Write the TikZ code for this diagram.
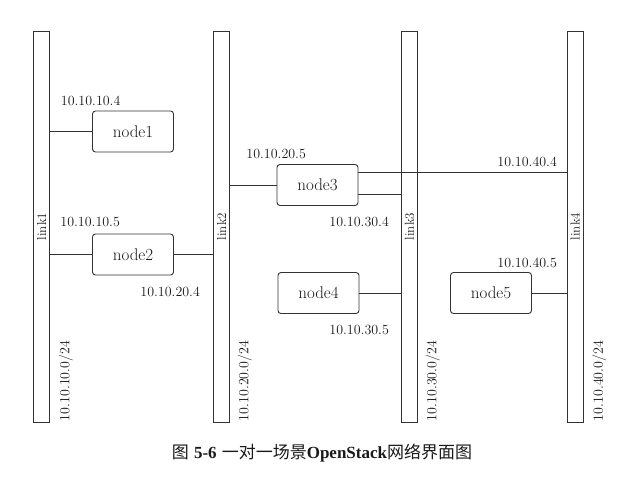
\documentclass[tikz,border=0pt]{standalone}
\usepackage{fontspec}
\newfontfamily\cjk{Noto Sans CJK SC}
\newfontfamily\capserif{Liberation Serif}
\usepackage{tikz}
\usetikzlibrary{positioning}

\begin{document}
\begin{tikzpicture}[x=1pt,y=-1pt,line width=0.9pt,draw=black!80,text=black!90,
    link/.style={draw,minimum width=16pt,minimum height=391pt,inner sep=0pt},
    host/.style={draw,rounded corners=3pt,minimum width=81pt,minimum height=41pt,font=\fontsize{17}{17}\selectfont},
    ip/.style={anchor=base west,inner sep=0pt,font=\fontsize{14}{14}\selectfont},
    tag/.style={rotate=90,inner sep=0pt,font=\fontsize{13}{13}\selectfont},
    net/.style={rotate=90,anchor=west,inner sep=0pt,font=\fontsize{14}{14}\selectfont}]
  \useasboundingbox (0,0) rectangle (642,478);
  % the four links
  \node[link] (link1) at (41.5,226.5) {};
  \node[link] (link2) at (221.5,226.5) {};
  \node[link] (link3) at (409.5,226.5) {};
  \node[link] (link4) at (575,226.5) {};
  \node[tag] (tag1) at (link1) {link1};
  \node[tag] (tag2) at (link2) {link2};
  \node[tag] (tag3) at (link3) {link3};
  \node[tag] (tag4) at (link4) {link4};
  \node[net] (net1) at ([xshift=16pt,yshift=1pt]link1.south east) {10.10.10.0/24};
  \node[net] (net2) at ([xshift=15pt,yshift=1pt]link2.south east) {10.10.20.0/24};
  \node[net] (net3) at ([xshift=15pt,yshift=1pt]link3.south east) {10.10.30.0/24};
  \node[net] (net4) at ([xshift=16pt,yshift=1pt]link4.south east) {10.10.40.0/24};
  % hosts
  \node[host] (node1) at (133,131.5) {node1};
  \node[host] (node2) at (133,254.5) {node2};
  \node[host] (node3) at (317.5,185) {node3};
  \node[host] (node4) at (318.5,293) {node4};
  \node[host] (node5) at (491,293) {node5};
  % addresses
  \node[ip] (ip104) at (60.5,106) {10.10.10.4};
  \node[ip] (ip105) at (60,227) {10.10.10.5};
  \node[ip] (ip204) at (140,296) {10.10.20.4};
  \node[ip] (ip205) at (246,159) {10.10.20.5};
  \node[ip] (ip304) at (329,227) {10.10.30.4};
  \node[ip] (ip305) at (329,334) {10.10.30.5};
  \node[ip] (ip404) at (497,167) {10.10.40.4};
  \node[ip] (ip405) at (497,268) {10.10.40.5};
  \draw[-] (node1.west) to (node1.west -| link1.east);
  \draw[-] (node2.west) to (node2.west -| link1.east);
  \draw[-] (node2.east) to (node2.east -| link2.west);
  \draw[-] (node3.west) to (node3.west -| link2.east);
  \draw[-] ([yshift=13pt]node3.east) to ([yshift=13pt]node3.east -| link4.west);
  \draw[-] ([yshift=-9pt]node3.east) to ([yshift=-9pt]node3.east -| link3.west);
  \draw[-] (node4.east) to (node4.east -| link3.west);
  \draw[-] (node5.east) to (node5.east -| link4.west);
  \node[font=\fontsize{17}{17}\selectfont] (caption) at (322,453)
    {{\cjk 图}\ {\capserif\bfseries 5-6}\ {\cjk 一对一场景}{\capserif\bfseries OpenStack}{\cjk 网络界面图}};
\end{tikzpicture}
\end{document}
